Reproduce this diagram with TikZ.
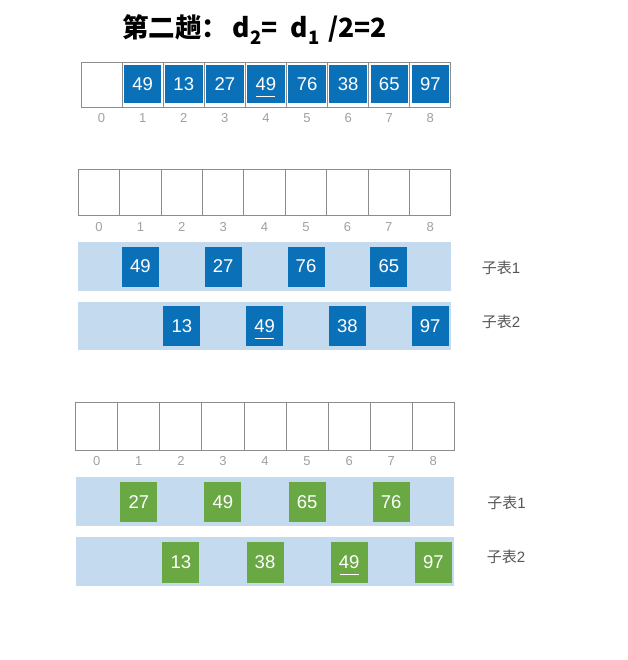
\documentclass[tikz,border=0pt]{standalone}
\usepackage{fontspec}
\setmainfont{Liberation Sans}
\newfontfamily\cjk{Noto Sans CJK SC}
\definecolor{cellblue}{HTML}{0A70B8}
\definecolor{bandblue}{HTML}{C4DAEE}
\definecolor{cellgreen}{HTML}{69A843}
\definecolor{gridgray}{HTML}{8C8C8C}
\definecolor{idxgray}{HTML}{A0A0A0}
\definecolor{labgray}{HTML}{555555}
\begin{document}
\begin{tikzpicture}[x=1pt,y=-1pt,
  cellbox/.style={draw=gridgray, line width=0.9pt, fill=white, inner sep=0pt, outer sep=0pt},
  idx/.style={text=idxgray, font=\fontsize{13}{13}\selectfont, inner sep=0pt},
  band/.style={fill=bandblue, draw=none, inner sep=0pt, outer sep=0pt},
  bsq/.style={fill=cellblue, draw=none, text=white, inner sep=0pt, minimum width=37pt, minimum height=#1, font=\fontsize{18.5}{18.5}\selectfont},
  gsq/.style={fill=cellgreen, draw=none, text=white, inner sep=0pt, minimum width=37pt, minimum height=#1, font=\fontsize{18.5}{18.5}\selectfont},
  sublab/.style={text=labgray, font=\fontsize{15}{15}\selectfont, inner sep=0pt},
  uline/.style={draw=white, line width=1.1pt}]
\useasboundingbox (0,0) rectangle (627,660);

% title
\node[inner sep=0pt, anchor=base west, font=\cjk\bfseries\fontsize{26.5}{26.5}\selectfont] (title) at (122,37.5)
  {第二趟：\,d\raisebox{-0.25em}{\fontsize{18.5}{18.5}\selectfont 2}=\,\,\,d\raisebox{-0.25em}{\fontsize{18.5}{18.5}\selectfont 1}\,\,/2=2};

% row 1
\foreach \i in {0,...,8} {
  \node[cellbox, minimum width=41.1pt, minimum height=45pt] (a\i) at ({81+41.1*(\i+0.5)},84.5) {};
  \node[idx] (ai\i) at ({81+41.1*(\i+0.5)},118) {\i};
}
\foreach \i/\v in {1/49,2/13,3/27,4/49,5/76,6/38,7/65,8/97}
  \node[bsq=38pt, minimum width=37.5pt] (as\i) at (a\i) {\v};
\draw[uline] ([xshift=-9.5pt,yshift=-12pt]as4.center) -- ([xshift=9.5pt,yshift=-12pt]as4.center);

% row 2
\foreach \i in {0,...,8} {
  \node[cellbox, minimum width=41.4pt, minimum height=46.4pt] (b\i) at ({78.3+41.4*(\i+0.5)},192.5) {};
  \node[idx] (bi\i) at ({78.3+41.4*(\i+0.5)},227) {\i};
}
\node[band, minimum width=372.7pt, minimum height=48.4pt] (bb1) at (264.65,266.5) {};
\node[band, minimum width=372.7pt, minimum height=47.7pt] (bb2) at (264.65,326.2) {};
\foreach \i/\v in {1/49,3/27,5/76,7/65}
  \node[bsq=40pt] (bs\i) at (bi\i |- bb1) {\v};
\foreach \i/\v in {2/13,4/49,6/38,8/97}
  \node[bsq=40pt] (bs\i) at (bi\i |- bb2) {\v};
\draw[uline] ([xshift=-9.5pt,yshift=-12pt]bs4.center) -- ([xshift=9.5pt,yshift=-12pt]bs4.center);
\node[sublab] (bl1) at (501,268) {\cjk 子表\fontspec{Liberation Sans}1};
\node[sublab] (bl2) at (501,322) {\cjk 子表\fontspec{Liberation Sans}2};

% row 3
\foreach \i in {0,...,8} {
  \node[cellbox, minimum width=42.07pt, minimum height=47.3pt] (c\i) at ({75.7+42.07*(\i+0.5)},426.35) {};
  \node[idx] (ci\i) at ({75.7+42.07*(\i+0.5)},461) {\i};
}
\node[band, minimum width=378.6pt, minimum height=48.7pt] (cb1) at (265,501.65) {};
\node[band, minimum width=378.6pt, minimum height=48.7pt] (cb2) at (265,561.65) {};
\foreach \i/\v in {1/27,3/49,5/65,7/76}
  \node[gsq=40.3pt] (cs\i) at (ci\i |- cb1) {\v};
\foreach \i/\v in {2/13,4/38,6/49,8/97}
  \node[gsq=40.3pt] (cs\i) at ([yshift=-0.8pt]ci\i |- cb2) {\v};
\draw[uline] ([xshift=-9.5pt,yshift=-12pt]cs6.center) -- ([xshift=9.5pt,yshift=-12pt]cs6.center);
\node[sublab] (cl1) at (506.5,503) {\cjk 子表\fontspec{Liberation Sans}1};
\node[sublab] (cl2) at (506,557) {\cjk 子表\fontspec{Liberation Sans}2};
\end{tikzpicture}
\end{document}
